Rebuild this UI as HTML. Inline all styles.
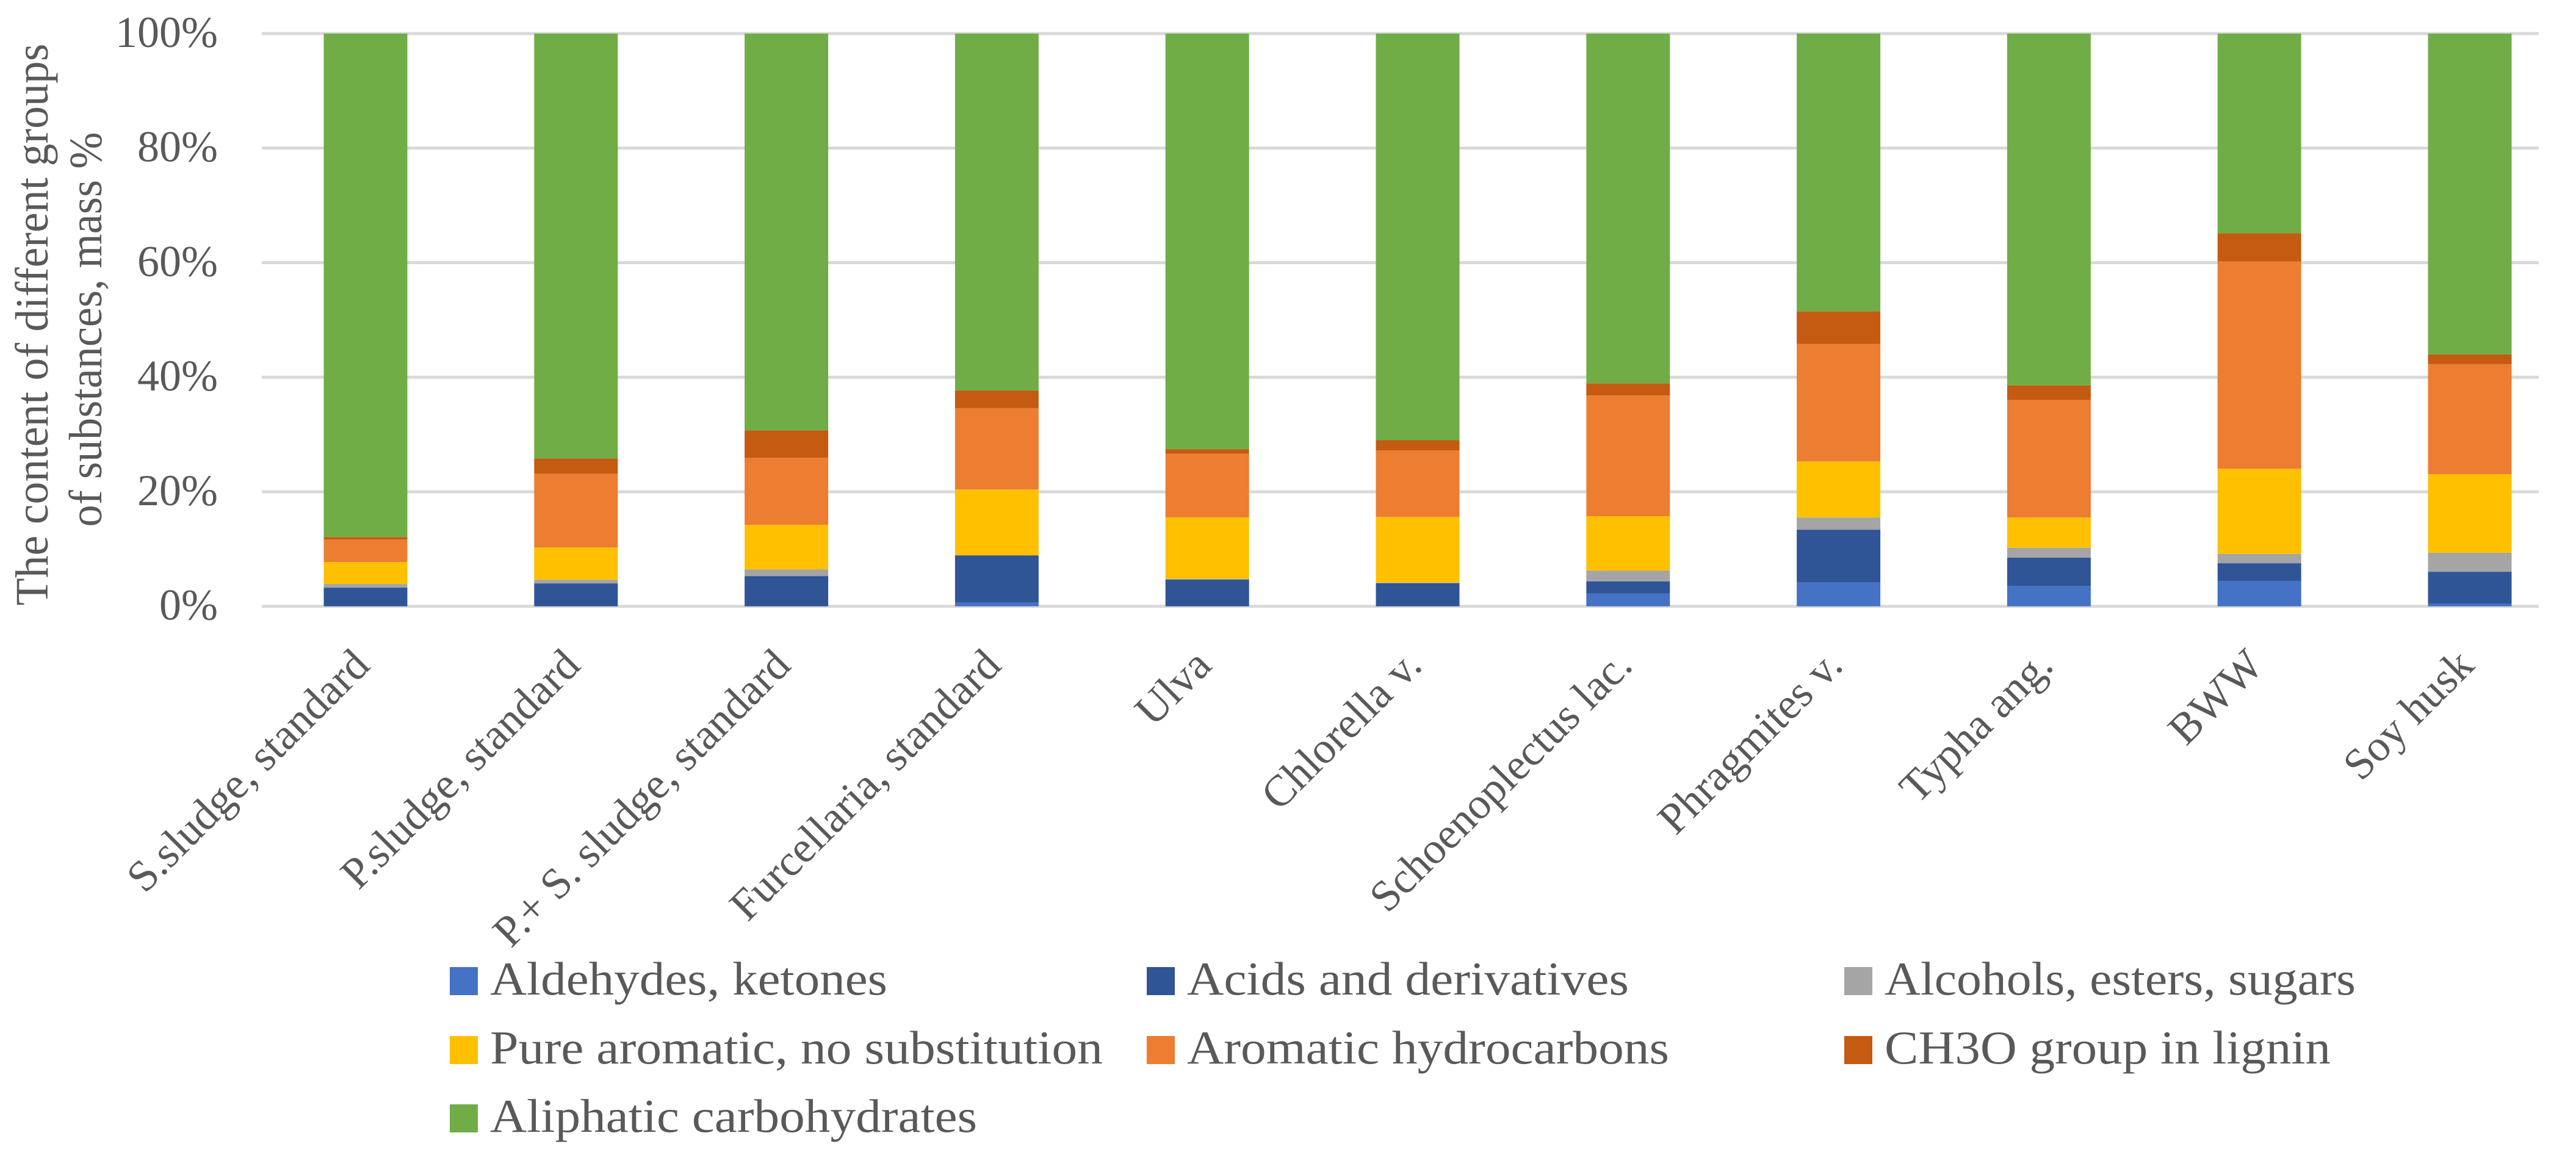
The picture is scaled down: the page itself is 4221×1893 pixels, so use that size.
<!DOCTYPE html>
<html><head><meta charset="utf-8"><style>
html,body{margin:0;padding:0;background:#fff}
svg{display:block}
text{font-family:"Liberation Serif",serif;fill:#595959}
</style></head><body>
<svg id="chart" width="4221" height="1893" viewBox="0 0 4221 1893" xmlns="http://www.w3.org/2000/svg">
<g id="grid"></g>
<g id="ylabels"></g>
<g id="bars"></g>
<g id="xlabels"></g>
<g>
<text x="0" y="0" transform="translate(78,532) rotate(-90)" text-anchor="middle" font-size="76" textLength="921" lengthAdjust="spacingAndGlyphs">The content of different groups</text>
<text x="0" y="0" transform="translate(166,540) rotate(-90)" text-anchor="middle" font-size="76" textLength="647" lengthAdjust="spacingAndGlyphs">of substances, mass %</text>
</g>
<g id="legend"></g>
</svg>
<script>
const categories = ["S.sludge, standard","P.sludge, standard","P.+ S. sludge, standard","Furcellaria, standard","Ulva","Chlorella v.","Schoenoplectus lac.","Phragmites v.","Typha ang.","BWW","Soy husk"];
const aldehydes = [0,0,0,0.64,0,0,2.22,4.15,3.59,4.44,0.43];
const acids = [3.26,4.0,5.28,8.26,4.68,4.02,2.14,9.23,4.91,3.08,5.6];
const alcohols = [0.64,0.64,1.17,0,0.11,0.13,1.88,2.13,1.71,1.63,3.33];
const pureAromatic = [3.83,5.63,7.77,11.5,10.74,11.45,9.49,9.79,5.3,14.87,13.72];
const aromaticHc = [3.94,12.88,11.7,14.2,11.13,11.6,21.07,20.5,20.5,36.2,19.2];
const ch3o = [0.42,2.66,4.8,3.1,0.78,1.8,2.13,5.7,2.56,4.9,1.7];
const aliphatic = [87.91,74.19,69.28,62.3,72.56,71.0,61.07,48.5,61.43,34.88,56.02];
const yTicks = [0,20,40,60,80,100];
const seriesNames = ["Aldehydes, ketones","Acids and derivatives","Alcohols, esters, sugars","Pure aromatic, no substitution","Aromatic hydrocarbons","CH3O group in lignin","Aliphatic carbohydrates"];

const series=[aldehydes,acids,alcohols,pureAromatic,aromaticHc,ch3o,aliphatic];
const colors=["#4472C4","#2F5597","#A5A5A5","#FFC000","#ED7D31","#C55A11","#70AD47"];
const NS="http://www.w3.org/2000/svg";
const y0=993.7, y100=55, xLeft=429, xRight=4160;
const firstC=599, step=344.8, bw=137;
function yScale(v){return y0-(y0-y100)*v/100;}
function xScale(i){return firstC+i*step;}
function mk(tag,attrs,parent){const e=document.createElementNS(NS,tag);for(const k in attrs)e.setAttribute(k,attrs[k]);parent.appendChild(e);return e;}
const grid=document.getElementById('grid'), yl=document.getElementById('ylabels');
yTicks.forEach(t=>{
  const l=mk('line',{x1:xLeft,x2:xRight,y1:yScale(t),y2:yScale(t),stroke:'#D9D9D9','stroke-width':5},grid);
  
  
  const tx=mk('text',{x:357,y:yScale(t)+22,'text-anchor':'end','font-size':72},yl);
  tx.textContent=t+'%';
  
  
});
const bars=document.getElementById('bars');
categories.forEach((c,i)=>{
  let cum=0;
  series.forEach((s,j)=>{
    const v=s[i]; if(v<=0){return;}
    const r=mk('rect',{x:xScale(i)-bw/2,y:yScale(cum+v),width:bw,height:yScale(cum)-yScale(cum+v),fill:colors[j]},bars);
    
    
    cum+=v;
  });
});
const xl=document.getElementById('xlabels');
categories.forEach((c,i)=>{
  const ax=xScale(i)+10, ay=1094;
  const t=mk('text',{x:0,y:0,'text-anchor':'end','font-size':72,transform:`translate(${ax},${ay}) rotate(-45)`},xl);
  t.textContent=c;
  
  
});
const leg=document.getElementById('legend');
const lx=[737,1879,3022], ly=[1585,1698,1810];
const tl=[651,724,772,1004,790,731,798];
seriesNames.forEach((n,k)=>{
  const col=k%3,row=Math.floor(k/3);
  const g=mk('g',{},leg);
  
  
  mk('rect',{x:lx[col],y:ly[row],width:46,height:46,fill:colors[k]},g);
  const t=mk('text',{x:lx[col]+66,y:ly[row]+45,'font-size':77,textLength:tl[k],lengthAdjust:'spacingAndGlyphs'},g);
  t.textContent=n;
});
</script>
</body></html>
